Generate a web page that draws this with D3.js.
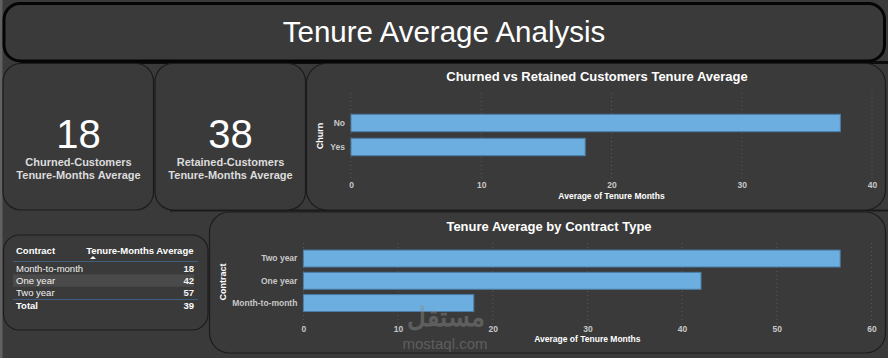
<!DOCTYPE html>
<html>
<head>
<meta charset="utf-8">
<script src="https://cdn.jsdelivr.net/npm/d3@7"></script>
<style>
  html, body { margin: 0; padding: 0; background: #393939; }
  svg { display: block; }
  text { font-family: "Liberation Sans", Arial, sans-serif; }
</style>
</head>
<body>
<svg id="chart" width="888" height="358"></svg>
<script>
// ---- data ----
const dashboardTitle = "Tenure Average Analysis";
const kpiValues = [18, 38];
const kpiLabels = [["Churned-Customers", "Tenure-Months Average"], ["Retained-Customers", "Tenure-Months Average"]];

const churnTitle = "Churned vs Retained Customers Tenure Average";
const churnCategories = ["No", "Yes"];
const churnValues = [37.57, 17.98];
const churnTicks = [0, 10, 20, 30, 40];

const contractTitle = "Tenure Average by Contract Type";
const contractCategories = ["Two year", "One year", "Month-to-month"];
const contractValues = [56.7, 42.0, 18.0];
const contractTicks = [0, 10, 20, 30, 40, 50, 60];

const tableHeaders = ["Contract", "Tenure-Months Average"];
const tableRows = ["Month-to-month", "One year", "Two year"];
const tableValues = [18, 42, 57];
const tableTotal = ["Total", 39];

// ---- drawing ----
const svg = d3.select("#chart");
const BG = "#3a3a3a";
const BAR = "#6caee0";
const BAR_STROKE = "#4c7ea6";

svg.append("rect").attr("width", 888).attr("height", 358).attr("fill", BG);
svg.append("rect").attr("x", 0).attr("y", 0).attr("width", 2.5).attr("height", 358).attr("fill", "#616161");

// separators (thick dark lines behind cards)
svg.append("line").attr("x1", 20).attr("x2", 888).attr("y1", 62.5).attr("y2", 62.5).attr("stroke", "#0d0d0d").attr("stroke-width", 3);
svg.append("line").attr("x1", 170).attr("x2", 888).attr("y1", 210.5).attr("y2", 210.5).attr("stroke", "#1a1a1a").attr("stroke-width", 2);

function card(x, y, w, h, r, sw, col) {
  svg.append("rect").attr("x", x).attr("y", y).attr("width", w).attr("height", h)
    .attr("rx", r).attr("ry", r).attr("fill", BG).attr("stroke", col || "#1c1c1c").attr("stroke-width", sw || 1);
}

// title box
card(4, 3.5, 880.5, 57.5, 16, 3, "#050505");
svg.append("text").attr("x", 444).attr("y", 41.5).attr("text-anchor", "middle")
  .attr("fill", "#ffffff").attr("font-size", 29.5).text(dashboardTitle);

// KPI cards
const kpiX = [3, 155];
kpiValues.forEach((v, i) => {
  card(kpiX[i], 63.5, 150.5, 146.5, 18, 1.2);
  const cx = kpiX[i] + 75.5;
  svg.append("text").attr("x", cx).attr("y", 148).attr("text-anchor", "middle")
    .attr("fill", "#ffffff").attr("font-size", 40).text(v);
  kpiLabels[i].forEach((l, j) => {
    svg.append("text").attr("x", cx).attr("y", 166 + j * 12.5).attr("text-anchor", "middle")
      .attr("fill", "#dcdcdc").attr("font-size", 11).attr("font-weight", "bold").text(l);
  });
});

// bar chart helper
function barChart(opts) {
  card(opts.box[0], opts.box[1], opts.box[2], opts.box[3], 20, 1.2);
  const x = d3.scaleLinear().domain(opts.domain).range(opts.xRange);
  const y = d3.scaleBand().domain(opts.cats).range(opts.yRange)
    .paddingInner(opts.padIn).paddingOuter(opts.padOut);
  const g = svg.append("g");
  g.append("text").attr("x", opts.titleX).attr("y", opts.titleY).attr("text-anchor", "middle")
    .attr("fill", "#ffffff").attr("font-size", 13).attr("font-weight", "bold").text(opts.title);
  // grid
  g.selectAll(".grid").data(opts.ticks).join("line")
    .attr("x1", d => x(d)).attr("x2", d => x(d))
    .attr("y1", opts.gridY[0]).attr("y2", opts.gridY[1])
    .attr("stroke", "#595959").attr("stroke-width", 1).attr("stroke-dasharray", "1,3");
  // x axis
  const xa = g.append("g").attr("transform", `translate(0,${opts.tickY})`)
    .call(d3.axisBottom(x).tickValues(opts.ticks).tickSize(0).tickPadding(0).tickFormat(d3.format("d")));
  xa.select(".domain").remove();
  xa.selectAll("text").attr("fill", "#c8c8c8").attr("font-size", 8.5).attr("font-weight", "bold")
    .attr("font-family", "Liberation Sans, Arial, sans-serif").attr("dy", "0.35em");
  // y axis
  const ya = g.append("g").attr("transform", `translate(${opts.xRange[0]},0)`)
    .call(d3.axisLeft(y).tickSize(0).tickPadding(opts.yPad));
  ya.select(".domain").remove();
  ya.selectAll("text").attr("fill", "#c8c8c8").attr("font-size", 8.5).attr("font-weight", "bold")
    .attr("font-family", "Liberation Sans, Arial, sans-serif");
  // bars
  g.selectAll(".bar").data(opts.cats).join("rect")
    .attr("x", x(0)).attr("y", d => y(d))
    .attr("width", (d, i) => x(opts.values[i]) - x(0)).attr("height", y.bandwidth())
    .attr("fill", BAR).attr("stroke", BAR_STROKE).attr("stroke-width", 1);
  // axis titles
  g.append("text").attr("x", (opts.xRange[0] + opts.xRange[1]) / 2).attr("y", opts.xTitleY).attr("text-anchor", "middle")
    .attr("fill", "#ffffff").attr("font-size", 8.5).attr("font-weight", "bold").text(opts.xLabel);
  g.append("text").attr("transform", `translate(${opts.yTitle[0]},${opts.yTitle[1]}) rotate(-90)`)
    .attr("text-anchor", "middle").attr("fill", "#ffffff").attr("font-size", 9).attr("font-weight", "bold").text(opts.yLabel);
}

barChart({
  box: [306.5, 63.5, 579, 146.5], title: churnTitle, titleX: 597, titleY: 81,
  domain: [0, 40], xRange: [351, 872], cats: churnCategories, values: churnValues,
  yRange: [111, 159], padIn: 0.275, padOut: 0.1375, ticks: churnTicks,
  gridY: [93, 180], tickY: 185, yPad: 6, xTitleY: 199, xLabel: "Average of Tenure Months",
  yTitle: [323, 136], yLabel: "Churn"
});

barChart({
  box: [209.5, 212, 676, 141], title: contractTitle, titleX: 549, titleY: 231,
  domain: [0, 60], xRange: [303.4, 871.4], cats: contractCategories, values: contractValues,
  yRange: [247.4, 314.2], padIn: 0.24, padOut: 0.12, ticks: contractTicks,
  gridY: [243, 325], tickY: 329, yPad: 6, xTitleY: 342, xLabel: "Average of Tenure Months",
  yTitle: [226, 282], yLabel: "Contract"
});

// table card
card(3.5, 235, 204.5, 95, 16, 1.2);
const tg = svg.append("g");
tg.append("text").attr("x", 16).attr("y", 253.5).attr("fill", "#ffffff").attr("font-size", 9.5).attr("font-weight", "bold").text(tableHeaders[0]);
tg.append("text").attr("x", 193.5).attr("y", 253.5).attr("text-anchor", "end").attr("fill", "#ffffff").attr("font-size", 9.5).attr("font-weight", "bold").text(tableHeaders[1]);
tg.append("path").attr("d", "M90,259 L93,256 L96,259 Z").attr("fill", "#ffffff");
tg.append("line").attr("x1", 13).attr("x2", 198).attr("y1", 261.5).attr("y2", 261.5).attr("stroke", "#3e5f80").attr("stroke-width", 1);
tg.append("rect").attr("x", 13).attr("y", 274.3).attr("width", 181).attr("height", 12.4).attr("fill", "#4a4a4a");
const rowY = d3.scaleBand().domain(tableRows).range([262, 299]);
tableRows.forEach((r, i) => {
  const yy = rowY(r) + rowY.bandwidth() / 2 + 3.5;
  tg.append("text").attr("x", 16).attr("y", yy).attr("fill", "#f2f2f2").attr("font-size", 9.5).text(r);
  tg.append("text").attr("x", 194).attr("y", yy).attr("text-anchor", "end").attr("fill", "#f2f2f2").attr("font-size", 9.5).attr("font-weight", "bold").text(tableValues[i]);
});
tg.append("line").attr("x1", 13).attr("x2", 198).attr("y1", 299.5).attr("y2", 299.5).attr("stroke", "#3e5f80").attr("stroke-width", 1);
tg.append("text").attr("x", 16).attr("y", 309).attr("fill", "#ffffff").attr("font-size", 9.5).attr("font-weight", "bold").text(tableTotal[0]);
tg.append("text").attr("x", 194).attr("y", 309).attr("text-anchor", "end").attr("fill", "#ffffff").attr("font-size", 9.5).attr("font-weight", "bold").text(tableTotal[1]);

// watermark (kept between tick labels so texts do not collide)
svg.append("text").attr("x", 445.5).attr("y", 326).attr("text-anchor", "middle").attr("fill", "#8a8a8a").attr("opacity", 0.45)
  .attr("font-size", 26).attr("font-weight", "bold").attr("font-family", "DejaVu Sans, sans-serif")
  .attr("textLength", 78).attr("lengthAdjust", "spacingAndGlyphs").text("مستقل");
svg.append("text").attr("x", 445).attr("y", 349).attr("text-anchor", "middle").attr("fill", "#8a8a8a").attr("opacity", 0.45)
  .attr("font-size", 15).text("mostaql.com");
</script>
</body>
</html>
